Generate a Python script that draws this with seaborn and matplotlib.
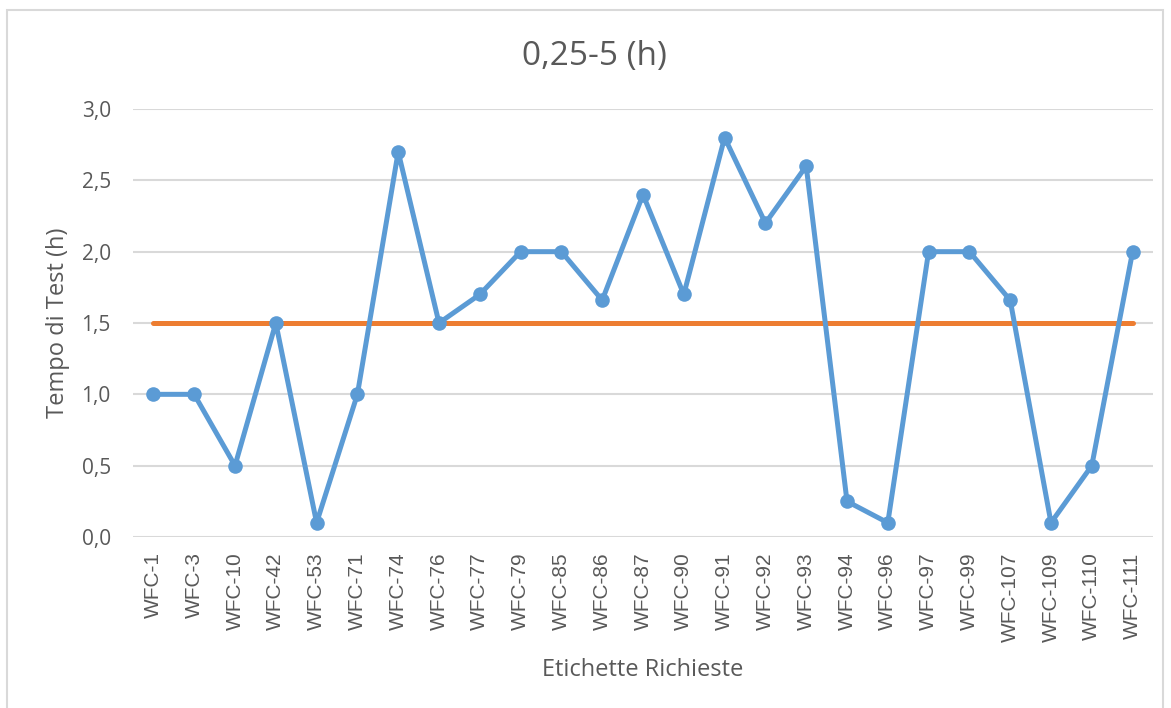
import matplotlib
matplotlib.use("Agg")
import matplotlib.pyplot as plt
import seaborn as sns
import pandas as pd
from matplotlib.patches import Rectangle

labels = ["WFC-1", "WFC-3", "WFC-10", "WFC-42", "WFC-53", "WFC-71", "WFC-74",
          "WFC-76", "WFC-77", "WFC-79", "WFC-85", "WFC-86", "WFC-87", "WFC-90",
          "WFC-91", "WFC-92", "WFC-93", "WFC-94", "WFC-96", "WFC-97", "WFC-99",
          "WFC-107", "WFC-109", "WFC-110", "WFC-111"]
test_hours = [1.0, 1.0, 0.5, 1.5, 0.1, 1.0, 2.7, 1.5, 1.7, 2.0, 2.0, 1.66, 2.4,
              1.7, 2.8, 2.2, 2.6, 0.25, 0.1, 2.0, 2.0, 1.66, 0.1, 0.5, 2.0]
threshold = [1.5] * len(labels)
y_ticks = [0.0, 0.5, 1.0, 1.5, 2.0, 2.5, 3.0]

df = pd.DataFrame({"label": labels, "ore": test_hours, "soglia": threshold})
df["pos"] = range(len(labels))

sns.set_style("white")
plt.rcParams["font.family"] = ["Open Sans", "DejaVu Sans"]

fig = plt.figure(figsize=(11.71, 7.08), dpi=100)
ax = fig.add_axes([133 / 1171, 1 - 537 / 708, (1153 - 133) / 1171, (537 - 109) / 708])

# chart-area frame
fig.patches.append(Rectangle((7 / 1171, -0.01), (1163 - 7) / 1171, 1 - 10 / 708 + 0.01,
                             transform=fig.transFigure, fill=False,
                             edgecolor="#D9D9D9", linewidth=1.5, zorder=0))

sns.lineplot(data=df, x="pos", y="soglia", ax=ax, color="#ED7D31",
             linewidth=3.6, sort=False, zorder=2)
sns.lineplot(data=df, x="pos", y="ore", ax=ax, color="#5B9BD5",
             linewidth=3.6, marker="o", markersize=10.5, markeredgewidth=0,
             sort=False, zorder=3)

ax.set_xlim(-0.5, len(labels) - 0.5)
ax.set_ylim(0, 3.0)
ax.set_yticks(y_ticks)
ax.set_yticklabels([f"{v:.1f}".replace(".", ",") for v in y_ticks],
                   fontsize=15, color="#595959")
ax.set_xticks(df["pos"])
ax.set_xticklabels(labels, rotation=90, fontsize=15, color="#595959",
                   family="Liberation Sans")
ax.tick_params(axis="x", length=0, pad=11)
ax.tick_params(axis="y", length=0, pad=16)

ax.grid(axis="y", color="#D9D9D9", linewidth=1.5)
ax.set_axisbelow(True)
for s in ax.spines.values():
    s.set_visible(False)

ax.set_xlabel("Etichette Richieste", fontsize=17, color="#595959", labelpad=12)
ax.set_ylabel("Tempo di Test (h)", fontsize=17, color="#595959", labelpad=8)
fig.text(594 / 1171, 1 - 57 / 708, "0,25-5 (h)", ha="center", va="center",
         fontsize=24, color="#595959")

fig.savefig("out.png", dpi=100)
